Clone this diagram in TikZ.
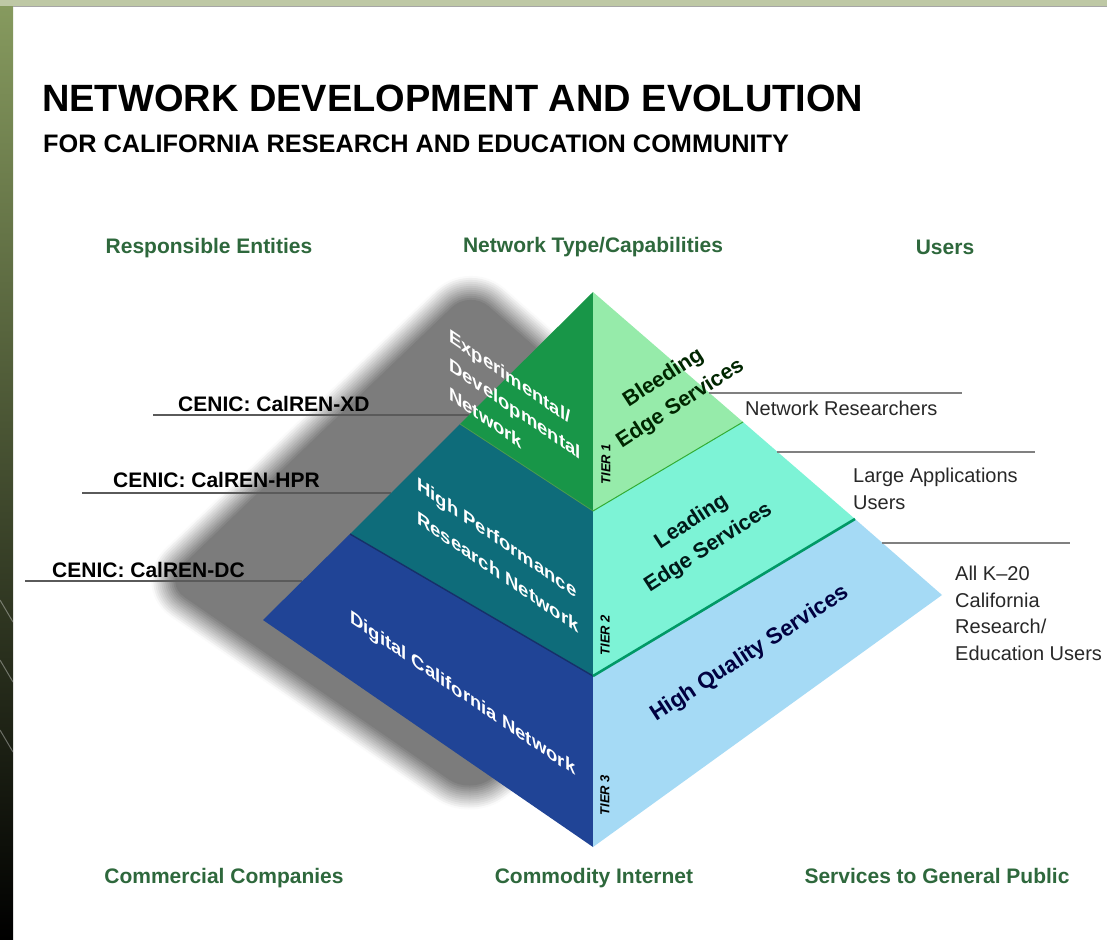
\documentclass[tikz,border=0pt]{standalone}
\usepackage{fontspec}
\setmainfont{Liberation Sans}

\definecolor{headgreen}{RGB}{46,104,60}
\definecolor{leftone}{RGB}{24,150,72}
\definecolor{rightone}{RGB}{150,235,170}
\definecolor{lefttwo}{RGB}{14,108,122}
\definecolor{righttwo}{RGB}{125,243,214}
\definecolor{leftthree}{RGB}{32,68,150}
\definecolor{rightthree}{RGB}{165,218,245}
\definecolor{shadowgray}{RGB}{124,124,124}
\definecolor{leadergray}{RGB}{90,90,90}
\definecolor{usertext}{RGB}{40,40,40}
\definecolor{stripolive}{RGB}{135,155,95}
\definecolor{stripdark}{RGB}{70,85,40}
\definecolor{topband}{RGB}{190,200,165}

\begin{document}
\begin{tikzpicture}[
  x=1pt, y=-1pt,
  heading/.style={font=\fontsize{21}{25}\selectfont\bfseries, text=headgreen, anchor=base, inner sep=0pt},
  entity/.style={font=\fontsize{21}{25}\selectfont\bfseries, anchor=base west, inner sep=0pt},
  usergroup/.style={font=\fontsize{20}{26.5}\selectfont, text=usertext, align=left, anchor=north west, inner sep=0pt},
  netface/.style={font=\fontsize{18.5}{29}\selectfont\bfseries, text=white, yslant=-0.68, align=left, anchor=west, inner sep=0pt},
  servface/.style={font=\fontsize{21.5}{31}\selectfont\bfseries, rotate=33, align=center, inner sep=0pt},
  tierlabel/.style={font=\fontsize{13}{13}\selectfont\bfseries\itshape, rotate=90, inner sep=0pt},
  leader/.style={draw=leadergray, line width=1.1pt},
]
\useasboundingbox (0,0) rectangle (1107,939);

% frame
\fill[white] (0,0) rectangle (1107,939);
\shade[top color=stripolive, middle color=stripdark, bottom color=black] (0,0) rectangle (13,939);
\begin{scope}
  \clip (0,560) rectangle (13,860);
  \foreach \y in {600,660,730}
    \draw[white, opacity=0.35, line width=1pt] (0,\y) -- (13,\y+22);
\end{scope}
\fill[topband] (0,0) rectangle (1107,6);
\draw[gray!70, line width=1pt] (13,6.5) -- (1107,6.5);

% title
\node[anchor=base west, inner sep=0pt, font=\fontsize{38}{44}\selectfont\bfseries] (title) at (42,112) {NETWORK DEVELOPMENT AND EVOLUTION};
\node[anchor=base west, inner sep=0pt, font=\fontsize{25.3}{28}\selectfont\bfseries] (subtitle) at (43,152) {FOR CALIFORNIA RESEARCH AND EDUCATION COMMUNITY};

% column headings
\node[heading] (hdentities) at (209,253) {Responsible Entities};
\node[heading] (hdnetwork) at (593,252) {Network Type/Capabilities};
\node[heading] (hdusers) at (945,254) {Users};
\node[heading] (ftcommercial) at (224,883) {Commercial Companies};
\node[heading] (ftcommodity) at (594,883) {Commodity Internet};
\node[heading] (ftpublic) at (937,883) {Services to General Public};

% pyramid corners and tier breaks
\coordinate (apex) at (593,292);
\coordinate (lcorner) at (263,620);
\coordinate (bottom) at (593,847);
\coordinate (rcorner) at (942,595);
\coordinate (cone) at (593,511);
\coordinate (ctwo) at (593,676);
\coordinate (lone) at (460,424);
\coordinate (ltwo) at (350,534);
\coordinate (rone) at (743,422);
\coordinate (rtwo) at (855,519);

% soft drop shadow: nested layers, lighter the wider they spread
\coordinate (shtop) at (470,290);
\coordinate (shleft) at (164,583);
\coordinate (shbottom) at (470,794);
\coordinate (shright) at (784,565);
\foreach \w [evaluate=\w as \p using int(100-2*\w)] in {48,44,...,4}
  \filldraw[draw=shadowgray!\p!white, fill=shadowgray!\p!white, line width=\w pt, line join=round, rounded corners=25pt]
    (shtop) -- (shleft) -- (shbottom) -- (shright) -- cycle;
\fill[shadowgray, rounded corners=25pt] (shtop) -- (shleft) -- (shbottom) -- (shright) -- cycle;

% entity leaders
\coordinate (xdstart) at (153,415);
\coordinate (xdedge) at (469,415);
\coordinate (hprstart) at (82,493);
\coordinate (hpredge) at (391,493);
\coordinate (dcstart) at (25,581);
\coordinate (dcedge) at (302,581);
\draw[leader] (xdstart) -- (xdedge);
\draw[leader] (hprstart) -- (hpredge);
\draw[leader] (dcstart) -- (dcedge);

\node[entity] (xd) at (178,411) {CENIC: CalREN-XD};
\node[entity] (hpr) at (113,487) {CENIC: CalREN-HPR};
\node[entity] (dc) at (52,577) {CENIC: CalREN-DC};

% left face: networks
\fill[leftone] (apex) -- (lone) -- (cone) -- cycle;
\fill[lefttwo] (lone) -- (ltwo) -- (ctwo) -- (cone) -- cycle;
\fill[leftthree] (ltwo) -- (lcorner) -- (bottom) -- (ctwo) -- cycle;
% right face: services
\fill[rightone] (apex) -- (cone) -- (rone) -- cycle;
\fill[righttwo] (cone) -- (ctwo) -- (rtwo) -- (rone) -- cycle;
\fill[rightthree] (ctwo) -- (bottom) -- (rcorner) -- (rtwo) -- cycle;

\draw[green!45!black!70, line width=0.8pt] (lone) -- (cone);
\draw[leftthree!70!black, line width=1.4pt] (ltwo) -- (ctwo);
\draw[green!60!black!80, line width=1pt] (cone) -- (rone);
\draw[teal!80!green, line width=2.6pt] (ctwo) -- (rtwo);

\node[netface] (xdnet) at (449,364) {Experimental/\\Developmental\\Network};
\node[netface, font=\fontsize{18.5}{34}\selectfont\bfseries] (hprnet) at (417,500) {High Performance\\Research Network};
\node[netface] (dcnet) at (350,618) {Digital California Network};

\node[servface, text=green!15!black] (bleeding) at (672,391) {Bleeding\\Edge Services};
\node[servface, text=teal!20!black] (leading) at (700,535) {Leading\\Edge Services};
\node[servface, text=blue!25!black, font=\fontsize{22.5}{31}\selectfont\bfseries] (quality) at (750,654) {High Quality Services};

\node[tierlabel] (tierone) at (606,464) {TIER 1};
\node[tierlabel] (tiertwo) at (605,635) {TIER 2};
\node[tierlabel] (tierthree) at (605,795) {TIER 3};

% user leaders
\coordinate (nredge) at (709,393);
\coordinate (nrend) at (962,393);
\coordinate (laedge) at (777,452);
\coordinate (laend) at (1035,452);
\coordinate (kedge) at (882,543);
\coordinate (kend) at (1070,543);
\draw[leader, draw=gray] (nredge) -- (nrend);
\draw[leader, draw=gray] (laedge) -- (laend);
\draw[leader, draw=gray] (kedge) -- (kend);

\node[usergroup] (researchers) at (745,401) {Network Researchers};
\node[usergroup] (largeapps) at (853,468) {Large Applications\\Users};
\node[usergroup] (k20) at (955,566) {All K--20\\California\\Research/\\Education Users};

\end{tikzpicture}
\end{document}
